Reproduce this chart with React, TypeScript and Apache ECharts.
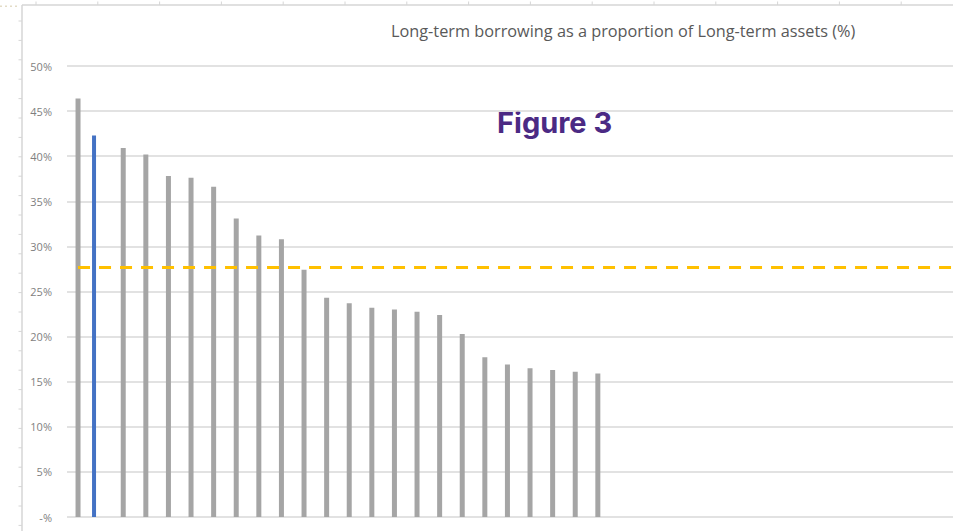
import React, { useEffect, useRef } from "react";
import * as echarts from "echarts";

// ---- data ----
const categories = [
  "1", "2", "3", "4", "5", "6", "7", "8", "9", "10", "11", "12",
  "13", "14", "15", "16", "17", "18", "19", "20", "21", "22", "23", "24",
];
// gray bars (other institutions), index 1 is the highlighted one
const otherValues: (number | null)[] = [
  46.4, null, 40.9, 40.2, 37.8, 37.6, 36.6, 33.1, 31.2, 30.8, 27.4, 24.3,
  23.7, 23.2, 23.0, 22.75, 22.4, 20.3, 17.7, 16.9, 16.5, 16.3, 16.1, 15.9,
];
// highlighted bar (blue)
const highlightValues: (number | null)[] = [
  null, 42.3, null, null, null, null, null, null, null, null, null, null,
  null, null, null, null, null, null, null, null, null, null, null, null,
];
const averageValue = 27.7;
const yTicks = [0, 5, 10, 15, 20, 25, 30, 35, 40, 45, 50];
const titleText = "Long-term borrowing as a proportion of Long-term assets (%)";
const figureText = "Figure 3";

const AXIS_BANDS = 40; // plot area continues beyond the cropped picture
const BAND = 22.6;

export default function App() {
  const ref = useRef<HTMLDivElement>(null);

  useEffect(() => {
    if (!ref.current) return;
    const chart = echarts.init(ref.current, undefined, { renderer: "svg" });

    const frame: any[] = [];
    const frameColor = "#D6D6D6";
    frame.push({
      type: "line",
      shape: { x1: 22, y1: 5, x2: 953, y2: 5 },
      style: { stroke: frameColor, lineWidth: 1.5 },
      silent: true,
    });
    frame.push({
      type: "line",
      shape: { x1: 22, y1: 5, x2: 22, y2: 531 },
      style: { stroke: frameColor, lineWidth: 1.5 },
      silent: true,
    });
    for (let x = 36; x < 953; x += 61.8) {
      frame.push({
        type: "line",
        shape: { x1: x, y1: 1.5, x2: x, y2: 5 },
        style: { stroke: frameColor, lineWidth: 1 },
        silent: true,
      });
    }
    for (let y = 21; y < 531; y += 19.4) {
      frame.push({
        type: "line",
        shape: { x1: 18.5, y1: y, x2: 22, y2: y },
        style: { stroke: frameColor, lineWidth: 1 },
        silent: true,
      });
    }
    frame.push({
      type: "line",
      shape: { x1: 0, y1: 6.3, x2: 18, y2: 6.3 },
      style: { stroke: "#E3DCC6", lineWidth: 1.5, lineDash: [2, 3] },
      silent: true,
    });
    frame.push({
      type: "text",
      x: 391,
      y: 23,
      style: {
        text: titleText,
        fill: "#595959",
        font: '16.3px "Open Sans"',
      },
      silent: true,
    });
    frame.push({
      type: "text",
      x: 497,
      y: 108,
      style: {
        text: figureText,
        fill: "#4B2A84",
        font: '700 29px Inter',
      },
      silent: true,
    });

    const option: any = {
      animation: false,
      backgroundColor: "#FFFFFF",
      grid: {
        left: 67,
        top: 66,
        bottom: 14,
        width: AXIS_BANDS * BAND,
        outerBoundsMode: "none",
        containLabel: false,
      },
      xAxis: {
        type: "category",
        data: categories,
        max: AXIS_BANDS - 1,
        axisLine: { show: false },
        axisTick: { show: false },
        axisLabel: { show: false },
        splitLine: { show: false },
      },
      yAxis: {
        type: "value",
        min: yTicks[0],
        max: yTicks[yTicks.length - 1],
        interval: 5,
        axisLine: { show: false },
        axisTick: { show: false },
        axisLabel: {
          margin: 15,
          color: "#7F7F7F",
          fontSize: 11,
          fontFamily: "Open Sans",
          formatter: (v: number) => (v === 0 ? " -%" : v + "%"),
        },
        splitLine: { lineStyle: { color: "#D9D9D9", width: 1.5 } },
      },
      series: [
        {
          name: "Highlighted",
          type: "bar",
          data: highlightValues,
          barWidth: 4,
          barGap: "52.5%",
          itemStyle: { color: "#4472C4" },
          silent: true,
        },
        {
          name: "Institutions",
          type: "bar",
          data: otherValues,
          barWidth: 5,
          barGap: "52.5%",
          itemStyle: { color: "#A5A5A5" },
          silent: true,
          markLine: {
            silent: true,
            symbol: ["none", "none"],
            label: { show: false },
            lineStyle: { color: "#FFC000", width: 3, type: [12, 9] },
            data: [
              [
                { xAxis: 0, yAxis: averageValue },
                { x: "100%", yAxis: averageValue },
              ],
            ],
          },
        },
        {
          name: "spacer",
          type: "bar",
          data: [],
          barWidth: 4,
          barGap: "52.5%",
          silent: true,
        },
      ],
      graphic: { elements: frame },
    };

    chart.setOption(option);
    return () => chart.dispose();
  }, []);

  return (
    <div
      ref={ref}
      style={{ position: "fixed", left: 0, top: 0, width: 953, height: 531 }}
    />
  );
}
